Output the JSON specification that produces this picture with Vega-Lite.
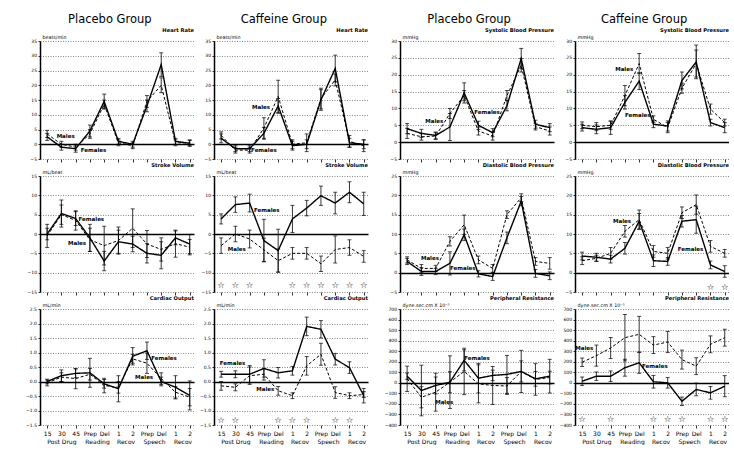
{
"$schema":"https://vega.github.io/schema/vega-lite/v6.json",
"padding":{"left":25,"top":14,"right":0,"bottom":0},
"datasets":{
"d":[
{"p":"hp","g":"F","x":1,"m":2.5,"e":1.2},{"p":"hp","g":"F","x":2,"m":-1,"e":1},{"p":"hp","g":"F","x":3,"m":-1.5,"e":1.2},{"p":"hp","g":"F","x":4,"m":4.5,"e":2},{"p":"hp","g":"F","x":5,"m":14.5,"e":2.5},{"p":"hp","g":"F","x":6,"m":1,"e":1},{"p":"hp","g":"F","x":7,"m":0,"e":1},{"p":"hp","g":"F","x":8,"m":13,"e":2},{"p":"hp","g":"F","x":9,"m":27,"e":4},{"p":"hp","g":"F","x":10,"m":1,"e":1},{"p":"hp","g":"F","x":11,"m":0.3,"e":1},
{"p":"hp","g":"M","x":1,"m":3.5,"e":1.2},{"p":"hp","g":"M","x":2,"m":0,"e":1},{"p":"hp","g":"M","x":3,"m":-1,"e":1},{"p":"hp","g":"M","x":4,"m":3.5,"e":1.5},{"p":"hp","g":"M","x":5,"m":13.5,"e":1.5},{"p":"hp","g":"M","x":6,"m":0.5,"e":1},{"p":"hp","g":"M","x":7,"m":-0.5,"e":1},{"p":"hp","g":"M","x":8,"m":14.5,"e":2},{"p":"hp","g":"M","x":9,"m":20,"e":2.5},{"p":"hp","g":"M","x":10,"m":0.5,"e":1},{"p":"hp","g":"M","x":11,"m":0.5,"e":1},
{"p":"hc","g":"F","x":1,"m":2,"e":1.5},{"p":"hc","g":"F","x":2,"m":-1.5,"e":1},{"p":"hc","g":"F","x":3,"m":-1.5,"e":1},{"p":"hc","g":"F","x":4,"m":3.7,"e":2},{"p":"hc","g":"F","x":5,"m":13,"e":2.5},{"p":"hc","g":"F","x":6,"m":-0.5,"e":1.5},{"p":"hc","g":"F","x":7,"m":0,"e":1.5},{"p":"hc","g":"F","x":8,"m":15,"e":3.5},{"p":"hc","g":"F","x":9,"m":25.7,"e":4.5},{"p":"hc","g":"F","x":10,"m":0.5,"e":1.5},{"p":"hc","g":"F","x":11,"m":0,"e":1.5},
{"p":"hc","g":"M","x":1,"m":3,"e":1.2},{"p":"hc","g":"M","x":2,"m":-2,"e":1},{"p":"hc","g":"M","x":3,"m":-2,"e":1},{"p":"hc","g":"M","x":4,"m":5.5,"e":3.5},{"p":"hc","g":"M","x":5,"m":16.2,"e":5.5},{"p":"hc","g":"M","x":6,"m":0,"e":1.5},{"p":"hc","g":"M","x":7,"m":0.5,"e":3},{"p":"hc","g":"M","x":8,"m":15.5,"e":3.5},{"p":"hc","g":"M","x":9,"m":21.8,"e":2},{"p":"hc","g":"M","x":10,"m":1,"e":2},{"p":"hc","g":"M","x":11,"m":-0.5,"e":2},
{"p":"sp","g":"F","x":1,"m":4,"e":1.5},{"p":"sp","g":"F","x":2,"m":2.6,"e":1.2},{"p":"sp","g":"F","x":3,"m":2,"e":1},{"p":"sp","g":"F","x":4,"m":4.5,"e":4},{"p":"sp","g":"F","x":5,"m":14.6,"e":3},{"p":"sp","g":"F","x":6,"m":5,"e":1.2},{"p":"sp","g":"F","x":7,"m":2.8,"e":1.2},{"p":"sp","g":"F","x":8,"m":10.8,"e":1.5},{"p":"sp","g":"F","x":9,"m":24.8,"e":3},{"p":"sp","g":"F","x":10,"m":5.3,"e":1.2},{"p":"sp","g":"F","x":11,"m":4.3,"e":1.2},
{"p":"sp","g":"M","x":1,"m":2.6,"e":1.5},{"p":"sp","g":"M","x":2,"m":1.6,"e":1},{"p":"sp","g":"M","x":3,"m":1.8,"e":1},{"p":"sp","g":"M","x":4,"m":8.5,"e":1.5},{"p":"sp","g":"M","x":5,"m":13.8,"e":1.5},{"p":"sp","g":"M","x":6,"m":3.3,"e":1.2},{"p":"sp","g":"M","x":7,"m":1.8,"e":1.2},{"p":"sp","g":"M","x":8,"m":13.8,"e":1.5},{"p":"sp","g":"M","x":9,"m":22.8,"e":2},{"p":"sp","g":"M","x":10,"m":4.6,"e":1},{"p":"sp","g":"M","x":11,"m":3.3,"e":1.2},
{"p":"sc","g":"F","x":1,"m":4.3,"e":1},{"p":"sc","g":"F","x":2,"m":3.8,"e":1.3},{"p":"sc","g":"F","x":3,"m":4.3,"e":2},{"p":"sc","g":"F","x":4,"m":11.8,"e":2},{"p":"sc","g":"F","x":5,"m":18.1,"e":2.5},{"p":"sc","g":"F","x":6,"m":5.3,"e":1},{"p":"sc","g":"F","x":7,"m":4.8,"e":1.5},{"p":"sc","g":"F","x":8,"m":18.3,"e":2.5},{"p":"sc","g":"F","x":9,"m":23.8,"e":5},{"p":"sc","g":"F","x":10,"m":5.8,"e":1},{"p":"sc","g":"F","x":11,"m":4.3,"e":1.5},
{"p":"sc","g":"M","x":1,"m":5,"e":1},{"p":"sc","g":"M","x":2,"m":4.6,"e":1.2},{"p":"sc","g":"M","x":3,"m":5,"e":1.2},{"p":"sc","g":"M","x":4,"m":13.8,"e":3},{"p":"sc","g":"M","x":5,"m":23.3,"e":3},{"p":"sc","g":"M","x":6,"m":6.8,"e":1},{"p":"sc","g":"M","x":7,"m":4.3,"e":1.5},{"p":"sc","g":"M","x":8,"m":16,"e":1.5},{"p":"sc","g":"M","x":9,"m":23.3,"e":4},{"p":"sc","g":"M","x":10,"m":9.8,"e":1.5},{"p":"sc","g":"M","x":11,"m":5.8,"e":1},
{"p":"vp","g":"F","x":1,"m":0,"e":1.5},{"p":"vp","g":"F","x":2,"m":5.3,"e":3.5},{"p":"vp","g":"F","x":3,"m":4,"e":1.8},{"p":"vp","g":"F","x":4,"m":-1,"e":3.5},{"p":"vp","g":"F","x":5,"m":-7,"e":2.5},{"p":"vp","g":"F","x":6,"m":-2,"e":3},{"p":"vp","g":"F","x":7,"m":-2.6,"e":2},{"p":"vp","g":"F","x":8,"m":-5,"e":2.5},{"p":"vp","g":"F","x":9,"m":-5.5,"e":3.5},{"p":"vp","g":"F","x":10,"m":-1,"e":1.8},{"p":"vp","g":"F","x":11,"m":-2.6,"e":2.5},
{"p":"vp","g":"M","x":1,"m":-0.5,"e":3},{"p":"vp","g":"M","x":2,"m":5,"e":2.5},{"p":"vp","g":"M","x":3,"m":3.5,"e":2.5},{"p":"vp","g":"M","x":4,"m":-1.5,"e":3},{"p":"vp","g":"M","x":5,"m":-3,"e":5},{"p":"vp","g":"M","x":6,"m":-1.7,"e":3.5},{"p":"vp","g":"M","x":7,"m":1.5,"e":5},{"p":"vp","g":"M","x":8,"m":-2.6,"e":3.5},{"p":"vp","g":"M","x":9,"m":-4,"e":3},{"p":"vp","g":"M","x":10,"m":-2.5,"e":3.5},{"p":"vp","g":"M","x":11,"m":-3.4,"e":2},
{"p":"vc","g":"F","x":1,"m":3.9,"e":1.3},{"p":"vc","g":"F","x":2,"m":7.6,"e":2},{"p":"vc","g":"F","x":3,"m":8,"e":2.3},{"p":"vc","g":"F","x":4,"m":-1.7,"e":5.5},{"p":"vc","g":"F","x":5,"m":-4.3,"e":5.5},{"p":"vc","g":"F","x":6,"m":3.9,"e":3.5},{"p":"vc","g":"F","x":7,"m":6.7,"e":2},{"p":"vc","g":"F","x":8,"m":9.9,"e":2.5},{"p":"vc","g":"F","x":9,"m":8,"e":2.8},{"p":"vc","g":"F","x":10,"m":10.8,"e":2.7},{"p":"vc","g":"F","x":11,"m":7.8,"e":3},
{"p":"vc","g":"M","x":1,"m":-3,"e":2},{"p":"vc","g":"M","x":2,"m":0,"e":2},{"p":"vc","g":"M","x":3,"m":-1.3,"e":2.3},{"p":"vc","g":"M","x":4,"m":-4.1,"e":3},{"p":"vc","g":"M","x":5,"m":-6.9,"e":3},{"p":"vc","g":"M","x":6,"m":-5,"e":1.5},{"p":"vc","g":"M","x":7,"m":-5,"e":1.5},{"p":"vc","g":"M","x":8,"m":-7.7,"e":2},{"p":"vc","g":"M","x":9,"m":-4,"e":3.5},{"p":"vc","g":"M","x":10,"m":-3.5,"e":2},{"p":"vc","g":"M","x":11,"m":-5.8,"e":1.5},
{"p":"dp","g":"F","x":1,"m":2.9,"e":0.8},{"p":"dp","g":"F","x":2,"m":0.3,"e":1},{"p":"dp","g":"F","x":3,"m":0.3,"e":0.8},{"p":"dp","g":"F","x":4,"m":2.4,"e":3},{"p":"dp","g":"F","x":5,"m":9.8,"e":1.5},{"p":"dp","g":"F","x":6,"m":-0.3,"e":0.8},{"p":"dp","g":"F","x":7,"m":-1,"e":1},{"p":"dp","g":"F","x":8,"m":9,"e":1.5},{"p":"dp","g":"F","x":9,"m":18.5,"e":1.2},{"p":"dp","g":"F","x":10,"m":-0.2,"e":1},{"p":"dp","g":"F","x":11,"m":-0.8,"e":1},
{"p":"dp","g":"M","x":1,"m":3.3,"e":0.8},{"p":"dp","g":"M","x":2,"m":1.1,"e":1},{"p":"dp","g":"M","x":3,"m":1.1,"e":0.8},{"p":"dp","g":"M","x":4,"m":8.1,"e":1.2},{"p":"dp","g":"M","x":5,"m":12.4,"e":2.5},{"p":"dp","g":"M","x":6,"m":3.3,"e":1},{"p":"dp","g":"M","x":7,"m":1.1,"e":1},{"p":"dp","g":"M","x":8,"m":15,"e":1},{"p":"dp","g":"M","x":9,"m":19.4,"e":1},{"p":"dp","g":"M","x":10,"m":2.9,"e":1},{"p":"dp","g":"M","x":11,"m":2.4,"e":1.5},
{"p":"dc","g":"F","x":1,"m":4.3,"e":1},{"p":"dc","g":"F","x":2,"m":4,"e":1},{"p":"dc","g":"F","x":3,"m":3.5,"e":1},{"p":"dc","g":"F","x":4,"m":6.3,"e":1.5},{"p":"dc","g":"F","x":5,"m":13.3,"e":2},{"p":"dc","g":"F","x":6,"m":3.1,"e":1.5},{"p":"dc","g":"F","x":7,"m":2.9,"e":1},{"p":"dc","g":"F","x":8,"m":13.3,"e":1.5},{"p":"dc","g":"F","x":9,"m":13.7,"e":3.5},{"p":"dc","g":"F","x":10,"m":2,"e":1},{"p":"dc","g":"F","x":11,"m":0.3,"e":1.5},
{"p":"dc","g":"M","x":1,"m":3.1,"e":1},{"p":"dc","g":"M","x":2,"m":3.7,"e":0.8},{"p":"dc","g":"M","x":3,"m":5,"e":1.5},{"p":"dc","g":"M","x":4,"m":10.7,"e":1.5},{"p":"dc","g":"M","x":5,"m":13.7,"e":2.5},{"p":"dc","g":"M","x":6,"m":5.5,"e":1.5},{"p":"dc","g":"M","x":7,"m":5,"e":1.5},{"p":"dc","g":"M","x":8,"m":15.5,"e":1.5},{"p":"dc","g":"M","x":9,"m":17.6,"e":2.5},{"p":"dc","g":"M","x":10,"m":6.8,"e":1.5},{"p":"dc","g":"M","x":11,"m":5,"e":1},
{"p":"cp","g":"F","x":1,"m":0,"e":0.08},{"p":"cp","g":"F","x":2,"m":0.2,"e":0.2},{"p":"cp","g":"F","x":3,"m":0.28,"e":0.15},{"p":"cp","g":"F","x":4,"m":0.3,"e":0.5},{"p":"cp","g":"F","x":5,"m":-0.08,"e":0.15},{"p":"cp","g":"F","x":6,"m":-0.25,"e":0.45},{"p":"cp","g":"F","x":7,"m":0.87,"e":0.3},{"p":"cp","g":"F","x":8,"m":1.06,"e":0.3},{"p":"cp","g":"F","x":9,"m":0,"e":0.15},{"p":"cp","g":"F","x":10,"m":-0.2,"e":0.4},{"p":"cp","g":"F","x":11,"m":-0.48,"e":0.5},
{"p":"cp","g":"M","x":1,"m":-0.05,"e":0.1},{"p":"cp","g":"M","x":2,"m":0.15,"e":0.15},{"p":"cp","g":"M","x":3,"m":0.1,"e":0.35},{"p":"cp","g":"M","x":4,"m":0.25,"e":0.2},{"p":"cp","g":"M","x":5,"m":-0.14,"e":0.25},{"p":"cp","g":"M","x":6,"m":-0.2,"e":0.2},{"p":"cp","g":"M","x":7,"m":0.78,"e":0.15},{"p":"cp","g":"M","x":8,"m":0.63,"e":0.35},{"p":"cp","g":"M","x":9,"m":0.1,"e":0.2},{"p":"cp","g":"M","x":10,"m":-0.37,"e":0.2},{"p":"cp","g":"M","x":11,"m":-0.54,"e":0.3},
{"p":"cc","g":"F","x":1,"m":0.25,"e":0.1},{"p":"cc","g":"F","x":2,"m":0.25,"e":0.12},{"p":"cc","g":"F","x":3,"m":0.25,"e":0.3},{"p":"cc","g":"F","x":4,"m":0.45,"e":0.3},{"p":"cc","g":"F","x":5,"m":0.3,"e":0.18},{"p":"cc","g":"F","x":6,"m":0.37,"e":0.15},{"p":"cc","g":"F","x":7,"m":1.9,"e":0.32},{"p":"cc","g":"F","x":8,"m":1.8,"e":0.3},{"p":"cc","g":"F","x":9,"m":0.77,"e":0.2},{"p":"cc","g":"F","x":10,"m":0.48,"e":0.2},{"p":"cc","g":"F","x":11,"m":-0.49,"e":0.25},
{"p":"cc","g":"M","x":1,"m":-0.15,"e":0.15},{"p":"cc","g":"M","x":2,"m":-0.2,"e":0.12},{"p":"cc","g":"M","x":3,"m":0.2,"e":0.3},{"p":"cc","g":"M","x":4,"m":0.25,"e":0.2},{"p":"cc","g":"M","x":5,"m":-0.32,"e":0.15},{"p":"cc","g":"M","x":6,"m":-0.49,"e":0.1},{"p":"cc","g":"M","x":7,"m":0.54,"e":0.32},{"p":"cc","g":"M","x":8,"m":0.94,"e":0.38},{"p":"cc","g":"M","x":9,"m":-0.38,"e":0.2},{"p":"cc","g":"M","x":10,"m":-0.49,"e":0.1},{"p":"cc","g":"M","x":11,"m":-0.45,"e":0.1},
{"p":"rp","g":"F","x":1,"m":63,"e":30},{"p":"rp","g":"F","x":2,"m":-73,"e":240},{"p":"rp","g":"F","x":3,"m":-25,"e":80},{"p":"rp","g":"F","x":4,"m":6,"e":250},{"p":"rp","g":"F","x":5,"m":213,"e":100},{"p":"rp","g":"F","x":6,"m":44,"e":140},{"p":"rp","g":"F","x":7,"m":70,"e":50},{"p":"rp","g":"F","x":8,"m":80,"e":180},{"p":"rp","g":"F","x":9,"m":108,"e":100},{"p":"rp","g":"F","x":10,"m":38,"e":70},{"p":"rp","g":"F","x":11,"m":63,"e":160},
{"p":"rp","g":"M","x":1,"m":38,"e":120},{"p":"rp","g":"M","x":2,"m":-137,"e":100},{"p":"rp","g":"M","x":3,"m":-89,"e":180},{"p":"rp","g":"M","x":4,"m":6,"e":100},{"p":"rp","g":"M","x":5,"m":108,"e":220},{"p":"rp","g":"M","x":6,"m":-10,"e":180},{"p":"rp","g":"M","x":7,"m":-25,"e":180},{"p":"rp","g":"M","x":8,"m":-30,"e":80},{"p":"rp","g":"M","x":9,"m":108,"e":200},{"p":"rp","g":"M","x":10,"m":32,"e":150},{"p":"rp","g":"M","x":11,"m":50,"e":60},
{"p":"rc","g":"F","x":1,"m":15,"e":40},{"p":"rc","g":"F","x":2,"m":63,"e":40},{"p":"rc","g":"F","x":3,"m":63,"e":50},{"p":"rc","g":"F","x":4,"m":143,"e":80},{"p":"rc","g":"F","x":5,"m":190,"e":100},{"p":"rc","g":"F","x":6,"m":10,"e":60},{"p":"rc","g":"F","x":7,"m":0,"e":50},{"p":"rc","g":"F","x":8,"m":-175,"e":40},{"p":"rc","g":"F","x":9,"m":-63,"e":60},{"p":"rc","g":"F","x":10,"m":-95,"e":60},{"p":"rc","g":"F","x":11,"m":-32,"e":100},
{"p":"rc","g":"M","x":1,"m":195,"e":40},{"p":"rc","g":"M","x":2,"m":258,"e":100},{"p":"rc","g":"M","x":3,"m":330,"e":100},{"p":"rc","g":"M","x":4,"m":428,"e":220},{"p":"rc","g":"M","x":5,"m":460,"e":170},{"p":"rc","g":"M","x":6,"m":358,"e":80},{"p":"rc","g":"M","x":7,"m":387,"e":100},{"p":"rc","g":"M","x":8,"m":220,"e":90},{"p":"rc","g":"M","x":9,"m":158,"e":80},{"p":"rc","g":"M","x":10,"m":365,"e":80},{"p":"rc","g":"M","x":11,"m":428,"e":80}
],
"a":[
{"p":"hp","x":2.3,"m":2.8,"t":"Males"},{"p":"hp","x":4.25,"m":-1.8,"t":"Females"},
{"p":"hc","x":3.8,"m":12.7,"t":"Males"},{"p":"hc","x":4.0,"m":-1.9,"t":"Females"},
{"p":"sp","x":2.9,"m":6.3,"t":"Males"},{"p":"sp","x":6.6,"m":8.8,"t":"Females"},
{"p":"sc","x":3.95,"m":21.8,"t":"Males"},{"p":"sc","x":4.9,"m":8.1,"t":"Females"},
{"p":"vp","x":4.1,"m":3.9,"t":"Females"},{"p":"vp","x":3.1,"m":-2.4,"t":"Males"},
{"p":"vc","x":4.2,"m":6.3,"t":"Females"},{"p":"vc","x":2.1,"m":-3.9,"t":"Males"},
{"p":"dp","x":2.6,"m":3.7,"t":"Males"},{"p":"dp","x":4.9,"m":1.1,"t":"Females"},
{"p":"dc","x":3.8,"m":13.3,"t":"Males"},{"p":"dc","x":8.6,"m":6.1,"t":"Females"},
{"p":"cp","x":9.2,"m":0.81,"t":"Females"},{"p":"cp","x":7.8,"m":0.17,"t":"Males"},
{"p":"cc","x":1.8,"m":0.63,"t":"Females"},{"p":"cc","x":4.1,"m":-0.26,"t":"Males"},
{"p":"rp","x":5.9,"m":238,"t":"Females"},{"p":"rp","x":3.6,"m":-178,"t":"Males"},
{"p":"rc","x":1.15,"m":333,"t":"Males"},{"p":"rc","x":6.1,"m":159,"t":"Females"}
],
"s":[
{"p":"vc","x":1,"m":-13.3},{"p":"vc","x":2,"m":-13.3},{"p":"vc","x":3,"m":-13.3},{"p":"vc","x":6,"m":-13.3},{"p":"vc","x":7,"m":-13.3},{"p":"vc","x":8,"m":-13.3},{"p":"vc","x":9,"m":-13.3},{"p":"vc","x":10,"m":-13.3},{"p":"vc","x":11,"m":-13.3},
{"p":"dc","x":10,"m":-3.8},{"p":"dc","x":11,"m":-3.8},
{"p":"cc","x":1,"m":-1.33},{"p":"cc","x":2,"m":-1.33},{"p":"cc","x":5,"m":-1.33},{"p":"cc","x":6,"m":-1.33},{"p":"cc","x":7,"m":-1.33},{"p":"cc","x":9,"m":-1.33},{"p":"cc","x":10,"m":-1.33},
{"p":"rc","x":1,"m":-340},{"p":"rc","x":3,"m":-340},{"p":"rc","x":6,"m":-340},{"p":"rc","x":7,"m":-340},{"p":"rc","x":8,"m":-340},{"p":"rc","x":10,"m":-340},{"p":"rc","x":11,"m":-340}
]
},
"spacing":16,
"bounds":"full",
"hconcat":[
{"hconcat":[
{"title":{"text":"Placebo Group","anchor":"middle","fontSize":11.5,"fontWeight":"normal","offset":2},"spacing":17,"bounds":"flush","vconcat":[
{"title":"Heart Rate","width":154,"height":118,
"encoding":{"x":{"field":"x","type":"quantitative","scale":{"domain":[0.5,11.3],"nice":false,"zero":false},"axis":{"values":[1,2,3,4,5,6,7,8,9,10,11],"labels":false,"title":null}},"y":{"field":"m","type":"quantitative","scale":{"domain":[-5,35],"nice":false,"zero":false},"axis":{"values":[-5,0,5,10,15,20,25,30,35],"title":"beats/min","labelOverlap":false,"gridColor":{"condition":{"test":"datum.value===0","value":"black"},"value":"#555"},"gridWidth":{"condition":{"test":"datum.value===0","value":1.4},"value":0.7},"gridDash":{"condition":{"test":"datum.value===0","value":[]},"value":[1,1.5]}}}},
"layer":[
{"data":{"name":"d"},"transform":[{"filter":"datum.p=='hp'"}],"mark":{"type":"errorbar","color":"black","ticks":{"size":4},"rule":{"strokeWidth":0.8}},"encoding":{"yError":{"field":"e"}}},
{"data":{"name":"d"},"transform":[{"filter":"datum.p=='hp'"}],"mark":{"type":"line","color":"black"},"encoding":{"strokeDash":{"field":"g","type":"nominal","scale":{"domain":["F","M"],"range":[[1,0],[3,2]]},"legend":null},"size":{"field":"g","type":"nominal","scale":{"domain":["F","M"],"range":[1.4,1]},"legend":null}}},
{"data":{"name":"a"},"transform":[{"filter":"datum.p=='hp'"}],"mark":{"type":"text","fontSize":5.5,"fontWeight":"bold","color":"black"},"encoding":{"text":{"field":"t"}}}
]},
{"title":"Stroke Volume","width":154,"height":116,
"encoding":{"x":{"field":"x","type":"quantitative","scale":{"domain":[0.5,11.3],"nice":false,"zero":false},"axis":{"values":[1,2,3,4,5,6,7,8,9,10,11],"labels":false,"title":null}},"y":{"field":"m","type":"quantitative","scale":{"domain":[-15,15],"nice":false,"zero":false},"axis":{"values":[-15,-10,-5,0,5,10,15],"title":"mL/beat","labelOverlap":false,"gridColor":{"condition":{"test":"datum.value===0","value":"black"},"value":"#555"},"gridWidth":{"condition":{"test":"datum.value===0","value":1.4},"value":0.7},"gridDash":{"condition":{"test":"datum.value===0","value":[]},"value":[1,1.5]}}}},
"layer":[
{"data":{"name":"d"},"transform":[{"filter":"datum.p=='vp'"}],"mark":{"type":"errorbar","color":"black","ticks":{"size":4},"rule":{"strokeWidth":0.8}},"encoding":{"yError":{"field":"e"}}},
{"data":{"name":"d"},"transform":[{"filter":"datum.p=='vp'"}],"mark":{"type":"line","color":"black"},"encoding":{"strokeDash":{"field":"g","type":"nominal","scale":{"domain":["F","M"],"range":[[1,0],[3,2]]},"legend":null},"size":{"field":"g","type":"nominal","scale":{"domain":["F","M"],"range":[1.4,1]},"legend":null}}},
{"data":{"name":"a"},"transform":[{"filter":"datum.p=='vp'"}],"mark":{"type":"text","fontSize":5.5,"fontWeight":"bold","color":"black"},"encoding":{"text":{"field":"t"}}}
]},
{"title":"Cardiac Output","width":154,"height":116,
"encoding":{"x":{"field":"x","type":"quantitative","scale":{"domain":[0.5,11.3],"nice":false,"zero":false},"axis":{"values":[1,2,3,4,5,6,7,8,9,10,11,4.5,6.5,8.5,10.5],"title":null,"labelOverlap":false,"labelExpr":"datum.value==1?'15':datum.value==2?['30','Post Drug']:datum.value==3?'45':(datum.value==4||datum.value==8)?'Prep':(datum.value==5||datum.value==9)?'Del':(datum.value==6||datum.value==10)?'1':(datum.value==7||datum.value==11)?'2':datum.value==4.5?['','Reading']:datum.value==8.5?['','Speech']:['','Recov']","tickOpacity":{"condition":{"test":"datum.value % 1 != 0","value":0},"value":1}}},"y":{"field":"m","type":"quantitative","scale":{"domain":[-1.5,2.5],"nice":false,"zero":false},"axis":{"values":[-1.5,-1,-0.5,0,0.5,1,1.5,2,2.5],"format":".1f","title":"mL/min","labelOverlap":false,"gridColor":{"condition":{"test":"datum.value===0","value":"black"},"value":"#555"},"gridWidth":{"condition":{"test":"datum.value===0","value":1.4},"value":0.7},"gridDash":{"condition":{"test":"datum.value===0","value":[]},"value":[1,1.5]}}}},
"layer":[
{"data":{"name":"d"},"transform":[{"filter":"datum.p=='cp'"}],"mark":{"type":"errorbar","color":"black","ticks":{"size":4},"rule":{"strokeWidth":0.8}},"encoding":{"yError":{"field":"e"}}},
{"data":{"name":"d"},"transform":[{"filter":"datum.p=='cp'"}],"mark":{"type":"line","color":"black"},"encoding":{"strokeDash":{"field":"g","type":"nominal","scale":{"domain":["F","M"],"range":[[1,0],[3,2]]},"legend":null},"size":{"field":"g","type":"nominal","scale":{"domain":["F","M"],"range":[1.4,1]},"legend":null}}},
{"data":{"name":"a"},"transform":[{"filter":"datum.p=='cp'"}],"mark":{"type":"text","fontSize":5.5,"fontWeight":"bold","color":"black"},"encoding":{"text":{"field":"t"}}}
]}
]},
{"title":{"text":"Caffeine Group","anchor":"middle","fontSize":11.5,"fontWeight":"normal","offset":2},"spacing":17,"bounds":"flush","vconcat":[
{"title":"Heart Rate","width":154,"height":118,
"encoding":{"x":{"field":"x","type":"quantitative","scale":{"domain":[0.5,11.3],"nice":false,"zero":false},"axis":{"values":[1,2,3,4,5,6,7,8,9,10,11],"labels":false,"title":null}},"y":{"field":"m","type":"quantitative","scale":{"domain":[-5,35],"nice":false,"zero":false},"axis":{"values":[-5,0,5,10,15,20,25,30,35],"title":"beats/min","labelOverlap":false,"gridColor":{"condition":{"test":"datum.value===0","value":"black"},"value":"#555"},"gridWidth":{"condition":{"test":"datum.value===0","value":1.4},"value":0.7},"gridDash":{"condition":{"test":"datum.value===0","value":[]},"value":[1,1.5]}}}},
"layer":[
{"data":{"name":"d"},"transform":[{"filter":"datum.p=='hc'"}],"mark":{"type":"errorbar","color":"black","ticks":{"size":4},"rule":{"strokeWidth":0.8}},"encoding":{"yError":{"field":"e"}}},
{"data":{"name":"d"},"transform":[{"filter":"datum.p=='hc'"}],"mark":{"type":"line","color":"black"},"encoding":{"strokeDash":{"field":"g","type":"nominal","scale":{"domain":["F","M"],"range":[[1,0],[3,2]]},"legend":null},"size":{"field":"g","type":"nominal","scale":{"domain":["F","M"],"range":[1.4,1]},"legend":null}}},
{"data":{"name":"a"},"transform":[{"filter":"datum.p=='hc'"}],"mark":{"type":"text","fontSize":5.5,"fontWeight":"bold","color":"black"},"encoding":{"text":{"field":"t"}}}
]},
{"title":"Stroke Volume","width":154,"height":116,
"encoding":{"x":{"field":"x","type":"quantitative","scale":{"domain":[0.5,11.3],"nice":false,"zero":false},"axis":{"values":[1,2,3,4,5,6,7,8,9,10,11],"labels":false,"title":null}},"y":{"field":"m","type":"quantitative","scale":{"domain":[-15,15],"nice":false,"zero":false},"axis":{"values":[-15,-10,-5,0,5,10,15],"title":"mL/beat","labelOverlap":false,"gridColor":{"condition":{"test":"datum.value===0","value":"black"},"value":"#555"},"gridWidth":{"condition":{"test":"datum.value===0","value":1.4},"value":0.7},"gridDash":{"condition":{"test":"datum.value===0","value":[]},"value":[1,1.5]}}}},
"layer":[
{"data":{"name":"d"},"transform":[{"filter":"datum.p=='vc'"}],"mark":{"type":"errorbar","color":"black","ticks":{"size":4},"rule":{"strokeWidth":0.8}},"encoding":{"yError":{"field":"e"}}},
{"data":{"name":"d"},"transform":[{"filter":"datum.p=='vc'"}],"mark":{"type":"line","color":"black"},"encoding":{"strokeDash":{"field":"g","type":"nominal","scale":{"domain":["F","M"],"range":[[1,0],[3,2]]},"legend":null},"size":{"field":"g","type":"nominal","scale":{"domain":["F","M"],"range":[1.4,1]},"legend":null}}},
{"data":{"name":"a"},"transform":[{"filter":"datum.p=='vc'"}],"mark":{"type":"text","fontSize":5.5,"fontWeight":"bold","color":"black"},"encoding":{"text":{"field":"t"}}},
{"data":{"name":"s"},"transform":[{"filter":"datum.p=='vc'"}],"mark":{"type":"text","text":"☆","fontSize":8.5,"fontWeight":"bold","color":"black"}}
]},
{"title":"Cardiac Output","width":154,"height":116,
"encoding":{"x":{"field":"x","type":"quantitative","scale":{"domain":[0.5,11.3],"nice":false,"zero":false},"axis":{"values":[1,2,3,4,5,6,7,8,9,10,11,4.5,6.5,8.5,10.5],"title":null,"labelOverlap":false,"labelExpr":"datum.value==1?'15':datum.value==2?['30','Post Drug']:datum.value==3?'45':(datum.value==4||datum.value==8)?'Prep':(datum.value==5||datum.value==9)?'Del':(datum.value==6||datum.value==10)?'1':(datum.value==7||datum.value==11)?'2':datum.value==4.5?['','Reading']:datum.value==8.5?['','Speech']:['','Recov']","tickOpacity":{"condition":{"test":"datum.value % 1 != 0","value":0},"value":1}}},"y":{"field":"m","type":"quantitative","scale":{"domain":[-1.5,2.5],"nice":false,"zero":false},"axis":{"values":[-1.5,-1,-0.5,0,0.5,1,1.5,2,2.5],"format":".1f","title":"mL/min","labelOverlap":false,"gridColor":{"condition":{"test":"datum.value===0","value":"black"},"value":"#555"},"gridWidth":{"condition":{"test":"datum.value===0","value":1.4},"value":0.7},"gridDash":{"condition":{"test":"datum.value===0","value":[]},"value":[1,1.5]}}}},
"layer":[
{"data":{"name":"d"},"transform":[{"filter":"datum.p=='cc'"}],"mark":{"type":"errorbar","color":"black","ticks":{"size":4},"rule":{"strokeWidth":0.8}},"encoding":{"yError":{"field":"e"}}},
{"data":{"name":"d"},"transform":[{"filter":"datum.p=='cc'"}],"mark":{"type":"line","color":"black"},"encoding":{"strokeDash":{"field":"g","type":"nominal","scale":{"domain":["F","M"],"range":[[1,0],[3,2]]},"legend":null},"size":{"field":"g","type":"nominal","scale":{"domain":["F","M"],"range":[1.4,1]},"legend":null}}},
{"data":{"name":"a"},"transform":[{"filter":"datum.p=='cc'"}],"mark":{"type":"text","fontSize":5.5,"fontWeight":"bold","color":"black"},"encoding":{"text":{"field":"t"}}},
{"data":{"name":"s"},"transform":[{"filter":"datum.p=='cc'"}],"mark":{"type":"text","text":"☆","fontSize":8.5,"fontWeight":"bold","color":"black"}}
]}
]}
],"spacing":5,"bounds":"full"},
{"hconcat":[
{"title":{"text":"Placebo Group","anchor":"middle","fontSize":11.5,"fontWeight":"normal","offset":2},"spacing":17,"bounds":"flush","vconcat":[
{"title":"Systolic Blood Pressure","width":154,"height":118,
"encoding":{"x":{"field":"x","type":"quantitative","scale":{"domain":[0.5,11.3],"nice":false,"zero":false},"axis":{"values":[1,2,3,4,5,6,7,8,9,10,11],"labels":false,"title":null}},"y":{"field":"m","type":"quantitative","scale":{"domain":[-5,30],"nice":false,"zero":false},"axis":{"values":[-5,0,5,10,15,20,25,30],"title":"mmHg","labelOverlap":false,"gridColor":{"condition":{"test":"datum.value===0","value":"black"},"value":"#555"},"gridWidth":{"condition":{"test":"datum.value===0","value":1.4},"value":0.7},"gridDash":{"condition":{"test":"datum.value===0","value":[]},"value":[1,1.5]}}}},
"layer":[
{"data":{"name":"d"},"transform":[{"filter":"datum.p=='sp'"}],"mark":{"type":"errorbar","color":"black","ticks":{"size":4},"rule":{"strokeWidth":0.8}},"encoding":{"yError":{"field":"e"}}},
{"data":{"name":"d"},"transform":[{"filter":"datum.p=='sp'"}],"mark":{"type":"line","color":"black"},"encoding":{"strokeDash":{"field":"g","type":"nominal","scale":{"domain":["F","M"],"range":[[1,0],[3,2]]},"legend":null},"size":{"field":"g","type":"nominal","scale":{"domain":["F","M"],"range":[1.4,1]},"legend":null}}},
{"data":{"name":"a"},"transform":[{"filter":"datum.p=='sp'"}],"mark":{"type":"text","fontSize":5.5,"fontWeight":"bold","color":"black"},"encoding":{"text":{"field":"t"}}}
]},
{"title":"Diastolic Blood Pressure","width":154,"height":116,
"encoding":{"x":{"field":"x","type":"quantitative","scale":{"domain":[0.5,11.3],"nice":false,"zero":false},"axis":{"values":[1,2,3,4,5,6,7,8,9,10,11],"labels":false,"title":null}},"y":{"field":"m","type":"quantitative","scale":{"domain":[-5,25],"nice":false,"zero":false},"axis":{"values":[-5,0,5,10,15,20,25],"title":"mmHg","labelOverlap":false,"gridColor":{"condition":{"test":"datum.value===0","value":"black"},"value":"#555"},"gridWidth":{"condition":{"test":"datum.value===0","value":1.4},"value":0.7},"gridDash":{"condition":{"test":"datum.value===0","value":[]},"value":[1,1.5]}}}},
"layer":[
{"data":{"name":"d"},"transform":[{"filter":"datum.p=='dp'"}],"mark":{"type":"errorbar","color":"black","ticks":{"size":4},"rule":{"strokeWidth":0.8}},"encoding":{"yError":{"field":"e"}}},
{"data":{"name":"d"},"transform":[{"filter":"datum.p=='dp'"}],"mark":{"type":"line","color":"black"},"encoding":{"strokeDash":{"field":"g","type":"nominal","scale":{"domain":["F","M"],"range":[[1,0],[3,2]]},"legend":null},"size":{"field":"g","type":"nominal","scale":{"domain":["F","M"],"range":[1.4,1]},"legend":null}}},
{"data":{"name":"a"},"transform":[{"filter":"datum.p=='dp'"}],"mark":{"type":"text","fontSize":5.5,"fontWeight":"bold","color":"black"},"encoding":{"text":{"field":"t"}}}
]},
{"title":"Peripheral Resistance","width":154,"height":116,
"encoding":{"x":{"field":"x","type":"quantitative","scale":{"domain":[0.5,11.3],"nice":false,"zero":false},"axis":{"values":[1,2,3,4,5,6,7,8,9,10,11,4.5,6.5,8.5,10.5],"title":null,"labelOverlap":false,"labelExpr":"datum.value==1?'15':datum.value==2?['30','Post Drug']:datum.value==3?'45':(datum.value==4||datum.value==8)?'Prep':(datum.value==5||datum.value==9)?'Del':(datum.value==6||datum.value==10)?'1':(datum.value==7||datum.value==11)?'2':datum.value==4.5?['','Reading']:datum.value==8.5?['','Speech']:['','Recov']","tickOpacity":{"condition":{"test":"datum.value % 1 != 0","value":0},"value":1}}},"y":{"field":"m","type":"quantitative","scale":{"domain":[-400,700],"nice":false,"zero":false},"axis":{"values":[-400,-300,-200,-100,0,100,200,300,400,500,600,700],"title":"dyne.sec.cm X 10⁻⁵","labelOverlap":false,"gridColor":{"condition":{"test":"datum.value===0","value":"black"},"value":"#555"},"gridWidth":{"condition":{"test":"datum.value===0","value":1.4},"value":0.7},"gridDash":{"condition":{"test":"datum.value===0","value":[]},"value":[1,1.5]}}}},
"layer":[
{"data":{"name":"d"},"transform":[{"filter":"datum.p=='rp'"}],"mark":{"type":"errorbar","color":"black","ticks":{"size":4},"rule":{"strokeWidth":0.8}},"encoding":{"yError":{"field":"e"}}},
{"data":{"name":"d"},"transform":[{"filter":"datum.p=='rp'"}],"mark":{"type":"line","color":"black"},"encoding":{"strokeDash":{"field":"g","type":"nominal","scale":{"domain":["F","M"],"range":[[1,0],[3,2]]},"legend":null},"size":{"field":"g","type":"nominal","scale":{"domain":["F","M"],"range":[1.4,1]},"legend":null}}},
{"data":{"name":"a"},"transform":[{"filter":"datum.p=='rp'"}],"mark":{"type":"text","fontSize":5.5,"fontWeight":"bold","color":"black"},"encoding":{"text":{"field":"t"}}}
]}
]},
{"title":{"text":"Caffeine Group","anchor":"middle","fontSize":11.5,"fontWeight":"normal","offset":2},"spacing":17,"bounds":"flush","vconcat":[
{"title":"Systolic Blood Pressure","width":154,"height":118,
"encoding":{"x":{"field":"x","type":"quantitative","scale":{"domain":[0.5,11.3],"nice":false,"zero":false},"axis":{"values":[1,2,3,4,5,6,7,8,9,10,11],"labels":false,"title":null}},"y":{"field":"m","type":"quantitative","scale":{"domain":[-5,30],"nice":false,"zero":false},"axis":{"values":[-5,0,5,10,15,20,25,30],"title":"mmHg","labelOverlap":false,"gridColor":{"condition":{"test":"datum.value===0","value":"black"},"value":"#555"},"gridWidth":{"condition":{"test":"datum.value===0","value":1.4},"value":0.7},"gridDash":{"condition":{"test":"datum.value===0","value":[]},"value":[1,1.5]}}}},
"layer":[
{"data":{"name":"d"},"transform":[{"filter":"datum.p=='sc'"}],"mark":{"type":"errorbar","color":"black","ticks":{"size":4},"rule":{"strokeWidth":0.8}},"encoding":{"yError":{"field":"e"}}},
{"data":{"name":"d"},"transform":[{"filter":"datum.p=='sc'"}],"mark":{"type":"line","color":"black"},"encoding":{"strokeDash":{"field":"g","type":"nominal","scale":{"domain":["F","M"],"range":[[1,0],[3,2]]},"legend":null},"size":{"field":"g","type":"nominal","scale":{"domain":["F","M"],"range":[1.4,1]},"legend":null}}},
{"data":{"name":"a"},"transform":[{"filter":"datum.p=='sc'"}],"mark":{"type":"text","fontSize":5.5,"fontWeight":"bold","color":"black"},"encoding":{"text":{"field":"t"}}}
]},
{"title":"Diastolic Blood Pressure","width":154,"height":116,
"encoding":{"x":{"field":"x","type":"quantitative","scale":{"domain":[0.5,11.3],"nice":false,"zero":false},"axis":{"values":[1,2,3,4,5,6,7,8,9,10,11],"labels":false,"title":null}},"y":{"field":"m","type":"quantitative","scale":{"domain":[-5,25],"nice":false,"zero":false},"axis":{"values":[-5,0,5,10,15,20,25],"title":"mmHg","labelOverlap":false,"gridColor":{"condition":{"test":"datum.value===0","value":"black"},"value":"#555"},"gridWidth":{"condition":{"test":"datum.value===0","value":1.4},"value":0.7},"gridDash":{"condition":{"test":"datum.value===0","value":[]},"value":[1,1.5]}}}},
"layer":[
{"data":{"name":"d"},"transform":[{"filter":"datum.p=='dc'"}],"mark":{"type":"errorbar","color":"black","ticks":{"size":4},"rule":{"strokeWidth":0.8}},"encoding":{"yError":{"field":"e"}}},
{"data":{"name":"d"},"transform":[{"filter":"datum.p=='dc'"}],"mark":{"type":"line","color":"black"},"encoding":{"strokeDash":{"field":"g","type":"nominal","scale":{"domain":["F","M"],"range":[[1,0],[3,2]]},"legend":null},"size":{"field":"g","type":"nominal","scale":{"domain":["F","M"],"range":[1.4,1]},"legend":null}}},
{"data":{"name":"a"},"transform":[{"filter":"datum.p=='dc'"}],"mark":{"type":"text","fontSize":5.5,"fontWeight":"bold","color":"black"},"encoding":{"text":{"field":"t"}}},
{"data":{"name":"s"},"transform":[{"filter":"datum.p=='dc'"}],"mark":{"type":"text","text":"☆","fontSize":8.5,"fontWeight":"bold","color":"black"}}
]},
{"title":"Peripheral Resistance","width":154,"height":116,
"encoding":{"x":{"field":"x","type":"quantitative","scale":{"domain":[0.5,11.3],"nice":false,"zero":false},"axis":{"values":[1,2,3,4,5,6,7,8,9,10,11,4.5,6.5,8.5,10.5],"title":null,"labelOverlap":false,"labelExpr":"datum.value==1?'15':datum.value==2?['30','Post Drug']:datum.value==3?'45':(datum.value==4||datum.value==8)?'Prep':(datum.value==5||datum.value==9)?'Del':(datum.value==6||datum.value==10)?'1':(datum.value==7||datum.value==11)?'2':datum.value==4.5?['','Reading']:datum.value==8.5?['','Speech']:['','Recov']","tickOpacity":{"condition":{"test":"datum.value % 1 != 0","value":0},"value":1}}},"y":{"field":"m","type":"quantitative","scale":{"domain":[-400,700],"nice":false,"zero":false},"axis":{"values":[-400,-300,-200,-100,0,100,200,300,400,500,600,700],"title":"dyne.sec.cm X 10⁻⁵","labelOverlap":false,"gridColor":{"condition":{"test":"datum.value===0","value":"black"},"value":"#555"},"gridWidth":{"condition":{"test":"datum.value===0","value":1.4},"value":0.7},"gridDash":{"condition":{"test":"datum.value===0","value":[]},"value":[1,1.5]}}}},
"layer":[
{"data":{"name":"d"},"transform":[{"filter":"datum.p=='rc'"}],"mark":{"type":"errorbar","color":"black","ticks":{"size":4},"rule":{"strokeWidth":0.8}},"encoding":{"yError":{"field":"e"}}},
{"data":{"name":"d"},"transform":[{"filter":"datum.p=='rc'"}],"mark":{"type":"line","color":"black"},"encoding":{"strokeDash":{"field":"g","type":"nominal","scale":{"domain":["F","M"],"range":[[1,0],[3,2]]},"legend":null},"size":{"field":"g","type":"nominal","scale":{"domain":["F","M"],"range":[1.4,1]},"legend":null}}},
{"data":{"name":"a"},"transform":[{"filter":"datum.p=='rc'"}],"mark":{"type":"text","fontSize":5.5,"fontWeight":"bold","color":"black"},"encoding":{"text":{"field":"t"}}},
{"data":{"name":"s"},"transform":[{"filter":"datum.p=='rc'"}],"mark":{"type":"text","text":"☆","fontSize":8.5,"fontWeight":"bold","color":"black"}}
]}
]}
],"spacing":5,"bounds":"full"}
],
"config":{
"font":"DejaVu Sans",
"view":{"stroke":null},
"axis":{"domainColor":"black","tickColor":"black","labelColor":"black","titleColor":"black","labelFontSize":4.5,"tickSize":2,"tickWidth":0.8,"labelPadding":1.5},
"axisY":{"grid":true,"domainWidth":1.5,"titleAngle":0,"titleAlign":"left","titleBaseline":"bottom","titleX":2,"titleY":-1.5,"titleFontSize":4.8,"titleFontWeight":"normal"},
"axisX":{"grid":false,"domain":false,"tickSize":3,"labelFontSize":6,"labelLineHeight":8,"labelPadding":2.5,"labelFlush":false,"labelOverlap":false,"labelBound":false},
"title":{"anchor":"end","fontSize":5.2,"fontWeight":"bold","offset":1.5,"color":"black"}
}
}
